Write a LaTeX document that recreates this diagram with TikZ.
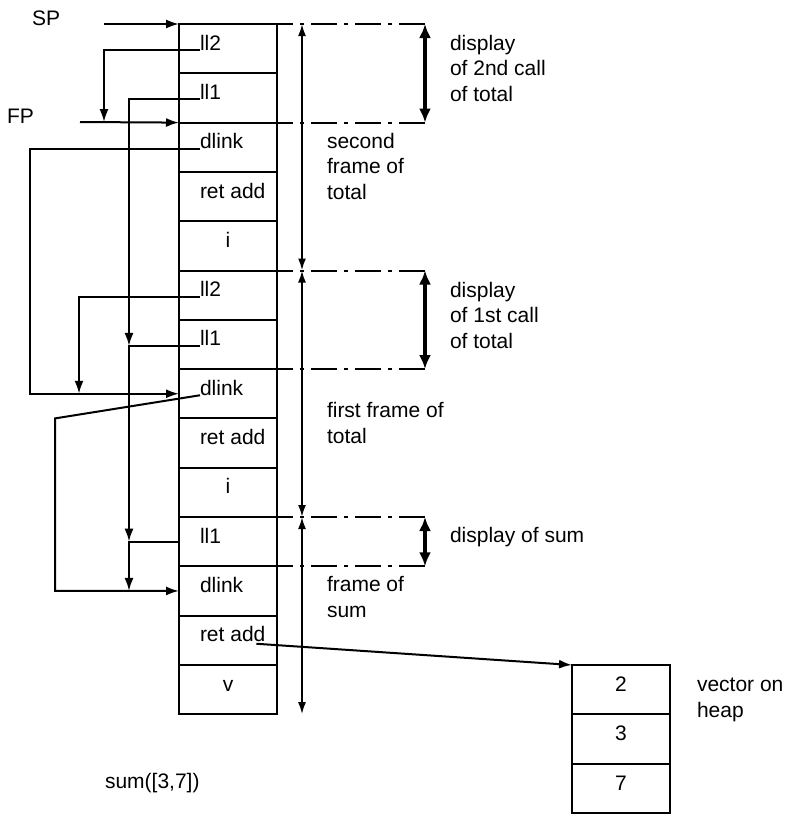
\documentclass[tikz,border=0pt]{standalone}
\usepackage{fontspec}
\setmainfont{Liberation Sans}
\usetikzlibrary{arrows.meta}
\usetikzlibrary{positioning}
\tikzset{> = latex,
  cell/.style={draw, line width=2pt, minimum width=98pt, minimum height=49.3pt, inner sep=0pt, outer sep=0pt},
  lbl/.style={font=\fontsize{21}{25.5}\selectfont, inner sep=0pt, outer sep=0pt, anchor=base west, align=left},
  ptr/.style={line width=2pt, -{Latex[length=13pt,width=9pt]}},
  fra/.style={line width=2pt, {Latex[length=12pt,width=8pt]}-{Latex[length=12pt,width=8pt]}},
  disp/.style={line width=4pt, {Latex[length=14pt,width=12pt]}-{Latex[length=14pt,width=12pt]}},
  dashdot/.style={line width=2pt, dash pattern=on 26pt off 7pt on 4pt off 7pt}}

\begin{document}
\begin{tikzpicture}[x=1pt,y=-1pt]
	\useasboundingbox (0,0) rectangle (800,820);
	% the stack
	\node[cell] (s1) at (228,48.65) {};
	\node[cell,below=0pt of s1] (s2) {};
	\node[cell,below=0pt of s2] (s3) {};
	\node[cell,below=0pt of s3] (s4) {};
	\node[cell,below=0pt of s4] (s5) {};
	\node[cell,below=0pt of s5] (s6) {};
	\node[cell,below=0pt of s6] (s7) {};
	\node[cell,below=0pt of s7] (s8) {};
	\node[cell,below=0pt of s8] (s9) {};
	\node[cell,below=0pt of s9] (s10) {};
	\node[cell,below=0pt of s10] (s11) {};
	\node[cell,below=0pt of s11] (s12) {};
	\node[cell,below=0pt of s12] (s13) {};
	\node[cell,below=0pt of s13] (s14) {};
	\node[lbl] (t1) at ([xshift=21pt,yshift=-1.5pt]s1.west) {ll2};
	\node[lbl] (t2) at ([xshift=21pt,yshift=-1.5pt]s2.west) {ll1};
	\node[lbl] (t3) at ([xshift=21pt,yshift=-1.5pt]s3.west) {dlink};
	\node[lbl] (t4) at ([xshift=21pt,yshift=-1.5pt]s4.west) {ret add};
	\node[lbl,anchor=base] (t5) at ([yshift=-1.5pt]s5.center) {i};
	\node[lbl] (t6) at ([xshift=21pt,yshift=-1.5pt]s6.west) {ll2};
	\node[lbl] (t7) at ([xshift=21pt,yshift=-1.5pt]s7.west) {ll1};
	\node[lbl] (t8) at ([xshift=21pt,yshift=-1.5pt]s8.west) {dlink};
	\node[lbl] (t9) at ([xshift=21pt,yshift=-1.5pt]s9.west) {ret add};
	\node[lbl,anchor=base] (t10) at ([yshift=-1.5pt]s10.center) {i};
	\node[lbl] (t11) at ([xshift=21pt,yshift=-1.5pt]s11.west) {ll1};
	\node[lbl] (t12) at ([xshift=21pt,yshift=-1.5pt]s12.west) {dlink};
	\node[lbl] (t13) at ([xshift=21pt,yshift=-1.5pt]s13.west) {ret add};
	\node[lbl,anchor=base] (t14) at ([yshift=-1.5pt]s14.center) {v};
	% the vector
	\node[cell] (h1) at (621,689.65) {};
	\node[cell,below=0pt of h1] (h2) {};
	\node[cell,below=0pt of h2] (h3) {};
	\node[lbl,anchor=base] (v1) at ([yshift=-2pt]h1.center) {2};
	\node[lbl,anchor=base] (v2) at ([yshift=-2pt]h2.center) {3};
	\node[lbl,anchor=base] (v3) at ([yshift=-2pt]h3.center) {7};
	% texts (base = last line)
	\node[lbl] (sp) at (32,25) {SP};
	\node[lbl] (fp) at (7,123) {FP};
	\node[lbl] (d1) at (450,101) {display\\of 2nd call\\of total};
	\node[lbl] (f1) at (327,199) {second\\frame of\\total};
	\node[lbl] (d2) at (450,348) {display\\of 1st call\\of total};
	\node[lbl] (f2) at (327,443) {first frame of\\total};
	\node[lbl] (d3) at (450,542) {display of sum};
	\node[lbl] (f3) at (327,617) {frame of\\sum};
	\node[lbl] (vec) at (697,717) {vector on\\heap};
	\node[lbl] (call) at (105,788) {sum([3,7])};
	% columns
	\coordinate (spa) at (104,24);
	\coordinate (fpa) at (80,122);
	\coordinate (xa) at (30,0);
	\coordinate (xb) at (55,0);
	\coordinate (xc) at (79,0);
	\coordinate (xd) at (129,0);
	\coordinate (fx) at (302,0);
	\coordinate (dx) at (425,0);
	\coordinate (ra) at ([xshift=-9pt,yshift=-2pt]t13.base east);
	% pointers
	\draw[ptr] (spa) -- (s1.north west);
	\draw[ptr] (fpa) -- (s3.north west);
	\draw[ptr] (t1.base west) -| (spa |- fpa);
	\draw[ptr] (t2.base west) -| (xd |- t7.base west);
	\draw[ptr] (t7.base west) -| (xd |- s11.west);
	\draw[ptr] (s11.west) -| (xd |- s12.west);
	\draw[ptr] (t3.base west) -| (xa |- s8.west) -- (s8.west);
	\draw[ptr] (t6.base west) -| (xc |- s8.west);
	\draw[ptr] (t8.base west) -- (xb |- s9.north) -- (xb |- s12.west) -- (s12.west);
	\draw[ptr] (ra) -- (h1.north west);
	% frames and displays
	\draw[fra] (fx |- s1.north) -- (fx |- s6.north);
	\draw[fra] (fx |- s6.north) -- (fx |- s11.north);
	\draw[fra] (fx |- s11.north) -- (fx |- s14.south);
	\draw[dashdot] (dx |- s1.north) -- (s1.north east);
	\draw[dashdot] (dx |- s3.north) -- (s3.north east);
	\draw[dashdot] (dx |- s6.north) -- (s6.north east);
	\draw[dashdot] (dx |- s8.north) -- (s8.north east);
	\draw[dashdot] (dx |- s11.north) -- (s11.north east);
	\draw[dashdot] (dx |- s12.north) -- (s12.north east);
	\draw[disp] (dx |- s1.north) -- (dx |- s3.north);
	\draw[disp] (dx |- s6.north) -- (dx |- s8.north);
	\draw[disp] (dx |- s11.north) -- (dx |- s12.north);
\end{tikzpicture}
\end{document}
